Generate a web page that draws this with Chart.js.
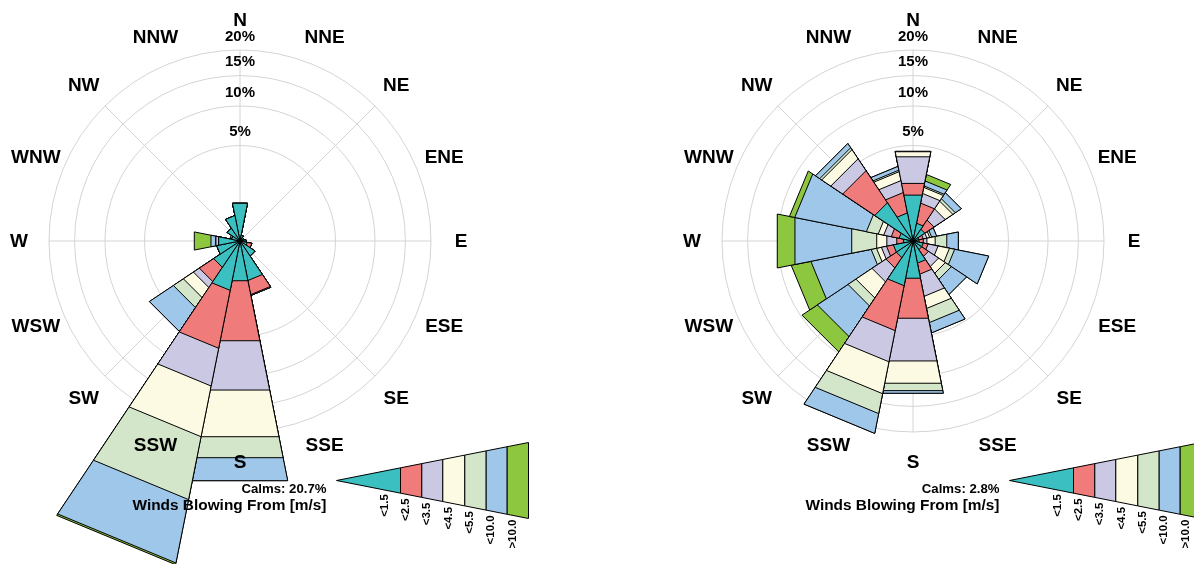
<!DOCTYPE html>
<html>
<head>
<meta charset="utf-8">
<script src="https://cdn.jsdelivr.net/npm/chart.js@4.4.1/dist/chart.umd.min.js"></script>
<style>
  html, body { margin: 0; padding: 0; background: #fff; }
  #page { position: relative; width: 1194px; height: 564px; overflow: hidden; }
  .rose { position: absolute; top: 0; width: 597px; height: 564px; }
</style>
</head>
<body>
<div id="page">
  <div class="rose" style="left:0"><canvas id="roseLeft"></canvas></div>
  <div class="rose" style="left:597px"><canvas id="roseRight"></canvas></div>
</div>
<script>
// Wind roses: % of hours by direction, stacked by speed class (m/s).
const dirs = ['N','NNE','NE','ENE','E','ESE','SE','SSE','S','SSW','SW','WSW','W','WNW','NW','NNW'];
const speedBins = ['<1.5','<2.5','<3.5','<4.5','<5.5','<10.0','>10.0'];
const binColors = ['#3BBFC0','#F07B7B','#CBC8E4','#FCFAE2','#D3E6CA','#9EC7E9','#8DC63F'];
const ringTicks = [5, 10, 15, 20];

// left station
const leftCalms = 20.7;
const left1 = [0.81,0.02,0.01,0.01,0.02,0.03,0.18,0.89,0.90,1.39,0.55,0.31,0.26,0.04,0.13,0.37];
const left2 = [0,0,0,0,0,0.05,0,0.75,4.77,5.17,0.76,0,0,0,0,0];
const left3 = [0,0,0,0,0,0,0,0.05,6.99,5.43,0.41,0,0.07,0,0,0];
const left4 = [0,0,0,0,0,0,0,0,9.17,9.84,0.82,0,0,0,0,0];
const left5 = [0,0,0,0,0,0,0,0,4.93,16.28,0.98,0,0,0,0,0];
const left6 = [0,0,0,0,0,0,0,0,5.98,20.97,2.99,0,0.15,0,0,0];
const left7 = [0,0,0,0,0,0,0,0,0,0.62,0,0,0.71,0.02,0,0];

// right station
const rightCalms = 2.8;
const right1 = [1.20,0.18,0.11,0.02,0.02,0.06,0.06,0.28,0.79,1.14,0.22,0.22,0.05,0.11,1.16,0.45];
const right2 = [0.69,0.64,0.24,0.04,0.04,0.07,0.13,0.35,2.61,3.44,0.36,0.18,0.10,0.16,2.76,0.89];
const right3 = [2.15,0.47,0.47,0.05,0.05,0.23,0.33,1.12,4.80,3.74,0.75,0.17,0.24,0.22,1.44,0.74];
const right4 = [0.50,0.35,0.44,0.05,0.17,0.40,0.31,0.85,3.33,4.97,1.25,0.19,0.36,0.20,1.25,0.66];
const right5 = [0.02,0.09,0.16,0.04,0.37,0.23,0.34,1.20,1.23,3.69,0.77,0.24,1.39,0.55,0.29,0.12];
const right6 = [0.02,0.33,0.43,0.12,0.52,2.28,1.11,1.02,0.45,4.12,3.90,4.95,5.80,6.73,0.64,0.32];
const right7 = [0,0.47,0,0,0,0,0,0,0,0,2.52,2.51,2.56,0.73,0,0];

const FONT = '"Liberation Sans", Arial, sans-serif';
const gridColor = '#d4d4d4';

// Petals are flat-ended: the arc element is redrawn as a triangle
// from the centre to the two corners at outerRadius.
class ChordWedge extends Chart.ArcElement {
  static id = 'chordWedge';
  draw(ctx) {
    const { x, y, startAngle, endAngle, outerRadius } =
      this.getProps(['x', 'y', 'startAngle', 'endAngle', 'outerRadius']);
    if (!(outerRadius > 0.3)) return;
    const o = this.options;
    ctx.save();
    ctx.beginPath();
    ctx.moveTo(x, y);
    ctx.lineTo(x + Math.cos(startAngle) * outerRadius, y + Math.sin(startAngle) * outerRadius);
    ctx.lineTo(x + Math.cos(endAngle) * outerRadius, y + Math.sin(endAngle) * outerRadius);
    ctx.closePath();
    ctx.fillStyle = o.backgroundColor;
    ctx.fill();
    if (o.borderWidth) {
      ctx.lineJoin = 'miter';
      ctx.lineWidth = o.borderWidth;
      ctx.strokeStyle = o.borderColor;
      ctx.stroke();
    }
    ctx.restore();
  }
}
Chart.register(ChordWedge);
Chart.defaults.datasets.polarArea.dataElementType = 'chordWedge';

// running totals per direction; the rings are drawn on a square-root scale
function stack(bins) {
  const run = dirs.map(() => 0);
  return bins.map(b => b.map((v, i) => Math.sqrt(run[i] += v)));
}

const roseDecor = {
  id: 'roseDecor',
  beforeDatasetsDraw(chart) {
    const s = chart.scales.r, ctx = chart.ctx;
    ctx.save();
    ctx.strokeStyle = gridColor;
    ctx.lineWidth = 1;
    for (let i = 0; i < dirs.length; i += 2) {
      const p = s.getPointPosition(i, s.drawingArea, Math.PI / dirs.length);
      ctx.beginPath();
      ctx.moveTo(s.xCenter, s.yCenter);
      ctx.lineTo(p.x, p.y);
      ctx.stroke();
    }
    ctx.restore();
  },
  afterDatasetsDraw(chart, args, opts) {
    const s = chart.scales.r, ctx = chart.ctx;
    const cx = s.xCenter, cy = s.yCenter;
    ctx.save();
    ctx.fillStyle = '#000';
    ctx.textAlign = 'center';
    ctx.textBaseline = 'middle';

    // ring labels sit just above each ring
    ctx.font = 'bold 15px ' + FONT;
    ringTicks.forEach(t => {
      const r = s.getDistanceFromCenterForValue(Math.sqrt(t));
      ctx.fillText(t + '%', cx, cy - r - 13.5);
    });

    // compass points
    ctx.font = 'bold 19px ' + FONT;
    dirs.forEach((d, i) => {
      const p = s.getPointPosition(i, 221, Math.PI / dirs.length);
      ctx.fillText(d, p.x, p.y + 1);
    });

    // speed-class key: a wedge widening to the right
    const ax = cx + 96.5, ay = cy + 239.5;
    const cuts = [0, 64, 85.3, 106.3, 128.3, 149.7, 170.7, 192];
    const slope = 38 / 192;
    ctx.lineWidth = 1;
    ctx.strokeStyle = '#000';
    for (let k = 0; k < speedBins.length; k++) {
      const a = cuts[k], b = cuts[k + 1];
      ctx.beginPath();
      ctx.moveTo(ax + a, ay - slope * a);
      ctx.lineTo(ax + b, ay - slope * b);
      ctx.lineTo(ax + b, ay + slope * b);
      ctx.lineTo(ax + a, ay + slope * a);
      ctx.closePath();
      ctx.fillStyle = binColors[k];
      ctx.fill();
      ctx.stroke();
    }
    ctx.fillStyle = '#000';
    ctx.font = 'bold 11.5px ' + FONT;
    ctx.textAlign = 'right';
    for (let k = 0; k < speedBins.length; k++) {
      const b = cuts[k + 1];
      ctx.save();
      ctx.translate(ax + b - 16, ay + slope * b + 1);
      ctx.rotate(-Math.PI / 2);
      ctx.fillText(speedBins[k], 0, 0);
      ctx.restore();
    }

    ctx.font = 'bold 13.2px ' + FONT;
    ctx.fillText('Calms: ' + opts.calms + '%', cx + 86.5, cy + 248);
    ctx.font = 'bold 15.4px ' + FONT;
    ctx.fillText('Winds Blowing From [m/s]', cx + 86.5, cy + 265);
    ctx.restore();
  }
};

function makeRose(id, bins, calms, padLeft) {
  const cum = stack(bins);
  return new Chart(document.getElementById(id), {
    type: 'polarArea',
    data: {
      labels: dirs,
      datasets: cum.map((vals, k) => ({
        label: speedBins[k],
        data: vals,
        backgroundColor: binColors[k],
        borderColor: '#000',
        borderWidth: 1,
        clip: false
      }))
    },
    options: {
      responsive: true,
      maintainAspectRatio: false,
      animation: false,
      events: [],
      layout: { padding: { left: padLeft, right: 597 - 382 - padLeft, top: 50, bottom: 132 } },
      plugins: { legend: { display: false }, tooltip: { enabled: false }, roseDecor: { calms } },
      scales: {
        r: {
          min: 0,
          max: Math.sqrt(20),
          startAngle: -11.25,
          angleLines: { display: false },
          pointLabels: { display: false },
          grid: { circular: true, color: gridColor, lineWidth: 1 },
          ticks: { display: false },
          afterBuildTicks: sc => { sc.ticks = [0, ...ringTicks].map(t => ({ value: Math.sqrt(t) })); }
        }
      }
    },
    plugins: [roseDecor]
  });
}

makeRose('roseLeft', [left1, left2, left3, left4, left5, left6, left7], leftCalms, 49);
makeRose('roseRight', [right1, right2, right3, right4, right5, right6, right7], rightCalms, 125);
</script>
</body>
</html>
